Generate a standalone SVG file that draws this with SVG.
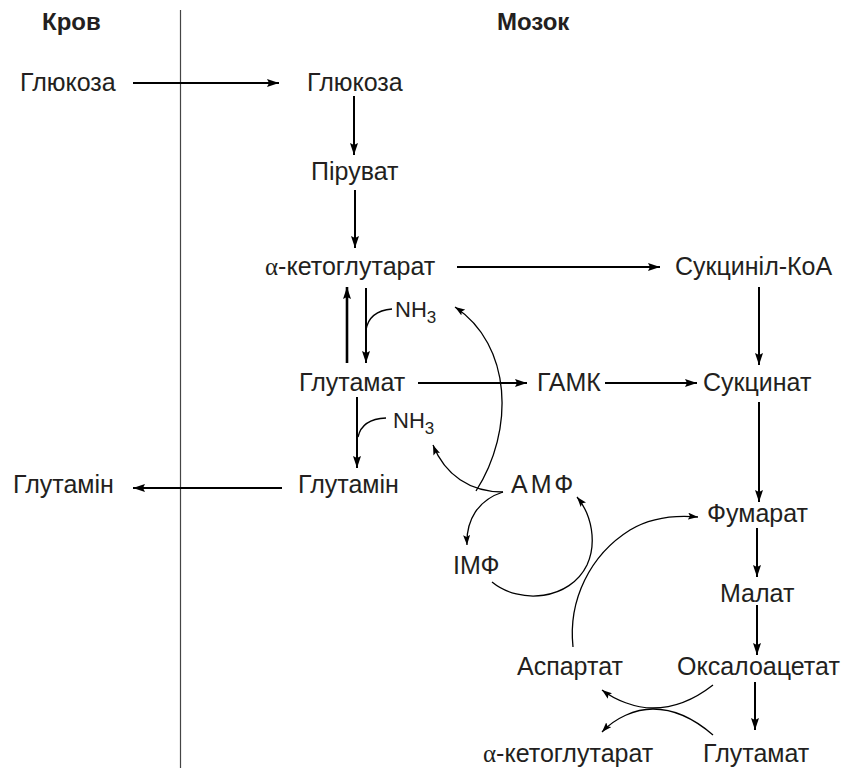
<svg xmlns="http://www.w3.org/2000/svg" width="843" height="768" viewBox="0 0 843 768">
<style>
.t{font-family:"Liberation Sans",Arial,sans-serif;font-size:25px;fill:#231f20}
.h{font-family:"Liberation Sans",Arial,sans-serif;font-size:24px;font-weight:bold;fill:#231f20}
.a{font-family:"Liberation Serif","Times New Roman",serif}
.s{stroke:#000;fill:none;stroke-width:2}
.c{stroke:#000;fill:none;stroke-width:1.3}
</style>
<defs>
<marker id="ar" markerUnits="userSpaceOnUse" markerWidth="12" markerHeight="8" refX="12" refY="4" orient="auto"><path d="M0,0 L12,4 L0,8 L2,4 z" fill="#000"/></marker>
<marker id="ac" markerUnits="userSpaceOnUse" markerWidth="10" markerHeight="7" refX="10" refY="3.5" orient="auto"><path d="M0,0 L10,3.5 L0,7 L2,3.5 z" fill="#000"/></marker>
</defs>
<line x1="180.5" y1="10" x2="180.5" y2="768" stroke="#444" stroke-width="1.2"/>
<g id="h1"><text class="h" x="42" y="30">Кров</text></g>
<g id="h2"><text class="h" x="497" y="30">Мозок</text></g>
<g id="glucL"><text class="t" x="20" y="91">Глюкоза</text></g>
<g id="glucR"><text class="t" x="307" y="91">Глюкоза</text></g>
<g id="pyr"><text class="t" x="311" y="180">Піруват</text></g>
<g id="akg"><text class="t" x="265" y="275"><tspan class="a">α</tspan>-кетоглутарат</text></g>
<g id="sucoa"><text class="t" x="675" y="275">Сукциніл-КоА</text></g>
<g id="nh1"><text class="t" x="395" y="317" style="font-size:22px">NH<tspan dy="6" style="font-size:17px">3</tspan></text></g>
<g id="glu"><text class="t" x="299" y="391">Глутамат</text></g>
<g id="gaba"><text class="t" x="537" y="391">ГАМК</text></g>
<g id="succ"><text class="t" x="703" y="391">Сукцинат</text></g>
<g id="nh2"><text class="t" x="393" y="428" style="font-size:22px">NH<tspan dy="6" style="font-size:17px">3</tspan></text></g>
<g id="glnL"><text class="t" x="13" y="493">Глутамін</text></g>
<g id="glnR"><text class="t" x="298" y="493">Глутамін</text></g>
<g id="amp"><text class="t" x="511" y="493" letter-spacing="3">АМФ</text></g>
<g id="fum"><text class="t" x="707" y="522">Фумарат</text></g>
<g id="imp"><text class="t" x="453" y="574">ІМФ</text></g>
<g id="mal"><text class="t" x="720" y="602">Малат</text></g>
<g id="asp"><text class="t" x="517" y="675">Аспартат</text></g>
<g id="oaa"><text class="t" x="677" y="675">Оксалоацетат</text></g>
<g id="akg2"><text class="t" x="483" y="762"><tspan class="a">α</tspan>-кетоглутарат</text></g>
<g id="glu2"><text class="t" x="703" y="762">Глутамат</text></g>
<g id="connectors">
<line class="s" x1="133" y1="83" x2="279" y2="83" marker-end="url(#ar)"/>
<line class="s" x1="354" y1="96" x2="354" y2="155" marker-end="url(#ar)"/>
<line class="s" x1="355" y1="190" x2="355" y2="248" marker-end="url(#ar)"/>
<line class="s" x1="457" y1="267" x2="660" y2="267" marker-end="url(#ar)"/>
<line class="s" x1="759" y1="287" x2="759" y2="365" marker-end="url(#ar)"/>
<line class="s" style="stroke-width:2.6" x1="347" y1="363" x2="347" y2="287" marker-end="url(#ar)"/>
<line class="s" x1="366" y1="288" x2="366" y2="363" marker-end="url(#ar)"/>
<path class="c" d="M366 330 Q369 311 392 309"/>
<line class="s" x1="418" y1="383" x2="527" y2="383" marker-end="url(#ar)"/>
<line class="s" x1="605" y1="383" x2="697" y2="383" marker-end="url(#ar)"/>
<line class="s" x1="759" y1="402" x2="759" y2="502" marker-end="url(#ar)"/>
<line class="s" x1="357" y1="397" x2="357" y2="468" marker-end="url(#ar)"/>
<path class="c" d="M358 437 Q362 419 386 418"/>
<line class="s" x1="282" y1="488" x2="133" y2="488" marker-end="url(#ar)"/>
<line class="s" x1="757" y1="528" x2="757" y2="577" marker-end="url(#ar)"/>
<line class="s" x1="757" y1="605" x2="757" y2="655" marker-end="url(#ar)"/>
<line class="s" x1="755" y1="682" x2="755" y2="730" marker-end="url(#ar)"/>
<path class="c" d="M476 491 C515 430 512 345 455 307" marker-end="url(#ac)"/>
<path class="c" d="M503 492 C470 492 445 475 433 445" marker-end="url(#ac)"/>
<path class="c" d="M503 492 C478 500 466 520 467 545" marker-end="url(#ac)"/>
<path class="c" d="M492 582 C520 605 570 600 587 565 C597 543 592 515 577 497" marker-end="url(#ac)"/>
<path class="c" d="M573 647 C568 600 590 555 630 530 C650 518 675 515 698 517" marker-end="url(#ac)"/>
<path class="c" d="M713 685 C690 703 670 708 653 708 C635 708 615 700 602 690" marker-end="url(#ac)"/>
<path class="c" d="M713 735 C690 715 670 709 653 709 C635 709 615 718 602 732" marker-end="url(#ac)"/>
</g>
</svg>
